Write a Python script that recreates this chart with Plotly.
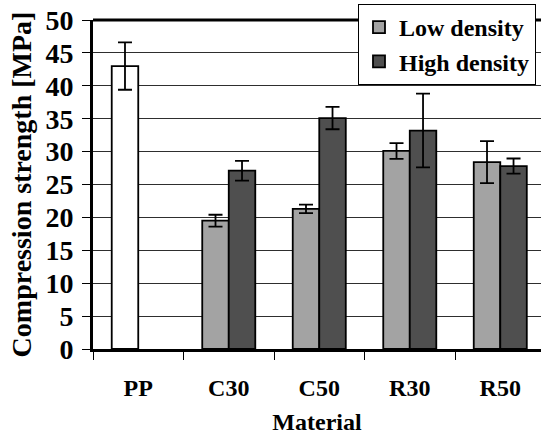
import plotly.graph_objects as go

# Compression strength by material, mean and standard deviation
materials = ["PP", "C30", "C50", "R30", "R50"]
low_density = [43.0, 19.5, 21.3, 30.1, 28.4]
low_density_err = [3.6, 0.9, 0.65, 1.2, 3.2]
high_density = [None, 27.1, 35.1, 33.2, 27.8]
high_density_err = [None, 1.5, 1.7, 5.6, 1.15]

LOW_GREY = "#a3a3a3"
HIGH_GREY = "#4f4f4f"
SERIF = "Liberation Serif"
OUTLINE = dict(color="black", width=1.8)

# the neat polymer bar is drawn in white
low_colors = ["white" if m == "PP" else LOW_GREY for m in materials]

fig = go.Figure()
fig.add_trace(go.Bar(
    x=materials, y=low_density, name="Low density",
    offsetgroup="low", showlegend=False,
    marker=dict(color=low_colors, line=OUTLINE),
    error_y=dict(type="data", array=low_density_err, color="black",
                 thickness=1.8, width=7),
))
# legend entry for the low-density series, shown with its grey swatch
fig.add_trace(go.Bar(
    x=[materials[0]], y=[None], name="Low density",
    offsetgroup="low", showlegend=True,
    marker=dict(color=LOW_GREY, line=OUTLINE),
))
fig.add_trace(go.Bar(
    x=materials, y=high_density, name="High density",
    offsetgroup="high",
    marker=dict(color=HIGH_GREY, line=OUTLINE),
    error_y=dict(type="data", array=high_density_err, color="black",
                 thickness=1.8, width=7),
))

fig.update_layout(
    width=541, height=438,
    margin=dict(l=93, r=0, t=20, b=89),
    paper_bgcolor="white", plot_bgcolor="white",
    barmode="group", bargap=0.414, bargroupgap=0.0,
    font=dict(family=SERIF, color="black", size=22, weight="bold"),
    showlegend=True,
    legend=dict(
        x=0.5915, xanchor="left", y=1.0486, yanchor="top",
        bgcolor="white", bordercolor="black", borderwidth=1,
        font=dict(family=SERIF, size=24, color="black", weight="bold"),
        tracegroupgap=0,
    ),
    xaxis=dict(
        range=[-0.5, 4.45],
        showline=True, linecolor="black", linewidth=3,
        ticks="outside", tickson="boundaries", ticklen=8,
        tickcolor="black", tickwidth=1,
        tickfont=dict(family=SERIF, size=24, weight="bold"),
        ticklabelstandoff=15,
        showgrid=False,
        title=dict(text="Material", standoff=14,
                   font=dict(family=SERIF, size=24, weight="bold")),
    ),
    yaxis=dict(
        range=[0, 50], dtick=5,
        showline=True, linecolor="black", linewidth=3,
        ticks="outside", ticklen=8, tickcolor="black", tickwidth=1,
        tickfont=dict(family=SERIF, size=28, weight="bold"),
        ticklabelstandoff=3,
        showgrid=True, gridcolor="#2e2e2e", gridwidth=1,
        zeroline=False,
        title=dict(text="Compression strength [MPa]", standoff=6,
                   font=dict(family=SERIF, size=28, weight="bold")),
    ),
)

# heavy top edge of the plotting frame
fig.add_shape(type="line", xref="paper", yref="paper",
              x0=0, x1=1, y0=1, y1=1,
              line=dict(color="black", width=3))

fig.write_html("out.html")
